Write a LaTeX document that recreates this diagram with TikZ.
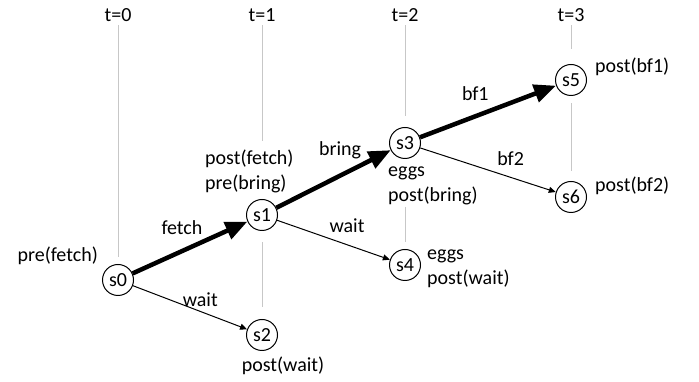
\documentclass[tikz,border=0pt]{standalone}
\usepackage{fontspec}
\setmainfont{Carlito}
\usetikzlibrary{arrows.meta,positioning}
\tikzset{
	state/.style={circle, draw=black, line width=1pt, minimum size=31pt, inner sep=0pt, font=\fontsize{20}{24}\selectfont},
	lbl/.style={inner sep=0pt, font=\fontsize{20}{25.5}\selectfont, align=left},
	timeline/.style={draw=black!22, line width=1pt},
	bigarrow/.style={line width=4.5pt, -{Triangle[length=22pt,width=18pt]}},
	smallarrow/.style={line width=1pt, -{Triangle[length=7pt,width=6pt]}},
}

\begin{document}
\begin{tikzpicture}[x=1pt, y=1pt]
\useasboundingbox (0,0) rectangle (699,382);
% states
\node (s0) [state] at (118,102) {s0};
\node (s1) [state] at (262,167) {s1};
\node (s2) [state] at (262,47) {s2};
\node (s3) [state] at (405,239) {s3};
\node (s4) [state] at (405,117) {s4};
\node (s5) [state] at (571,302) {s5};
\node (s6) [state] at (571,185) {s6};
% time steps
\node (t0) [lbl, anchor=base] at (118,360) {t=0};
\node (t1) [lbl, anchor=base] at (262,360) {t=1};
\node (t2) [lbl, anchor=base] at (405,360) {t=2};
\node (t3) [lbl, anchor=base] at (571,360) {t=3};
% pre and post conditions (base = last line)
\node (s0lbl) [lbl, anchor=base east] at (98,120) {pre(fetch)};
\node (s1lbl) [lbl, anchor=base west] at (205,192) {post(fetch)\\pre(bring)};
\node (s2lbl) [lbl, anchor=base] at (283,10) {post(wait)};
\node (s3lbl) [lbl, anchor=base west] at (388,180) {eggs\\post(bring)};
\node (s4lbl) [lbl, anchor=base west] at (427,97) {eggs\\post(wait)};
\node (s5lbl) [lbl, anchor=base west] at (595,309) {post(bf1)};
\node (s6lbl) [lbl, anchor=base west] at (595,190) {post(bf2)};
% time lines
\draw [timeline, shorten <=3pt, shorten >=7pt] (t0.south) -- (s0.north);
\draw [timeline, shorten <=3pt, shorten >=9pt] (t1.south) -- (t1.south |- s1lbl.north);
\draw [timeline, shorten <=11.5pt, shorten >=11.5pt] (s1.south) -- (s2.north);
\draw [timeline, shorten <=3pt, shorten >=10.5pt] (t2.south) -- (s3.north);
\draw [timeline, shorten <=1pt, shorten >=6.5pt] (s4.north |- s3lbl.south) -- (s4.north);
\draw [timeline, shorten <=3pt, shorten >=14.5pt] (t3.south) -- (s5.north);
\draw [timeline, shorten <=7.5pt, shorten >=9.5pt] (s5.south) -- (s6.north);
% actions
\foreach \i/\j/\k/\p/\d in {s0/s1/fetch/.43/14pt, s1/s3/bring/.557/14.7pt, s3/s5/bf1/.407/13.3pt}
\draw [bigarrow] (\i) -- node (l\i\j) [lbl, pos=\p, above=\d] {\k} (\j);
\foreach \i/\j/\k/\p/\d in {s0/s2/wait/.59/4.6pt, s1/s4/wait/.62/11.7pt, s3/s6/bf2/.667/11pt}
\draw [smallarrow] (\i) -- node (l\i\j) [lbl, pos=\p, above=\d] {\k} (\j);
\end{tikzpicture}
\end{document}
